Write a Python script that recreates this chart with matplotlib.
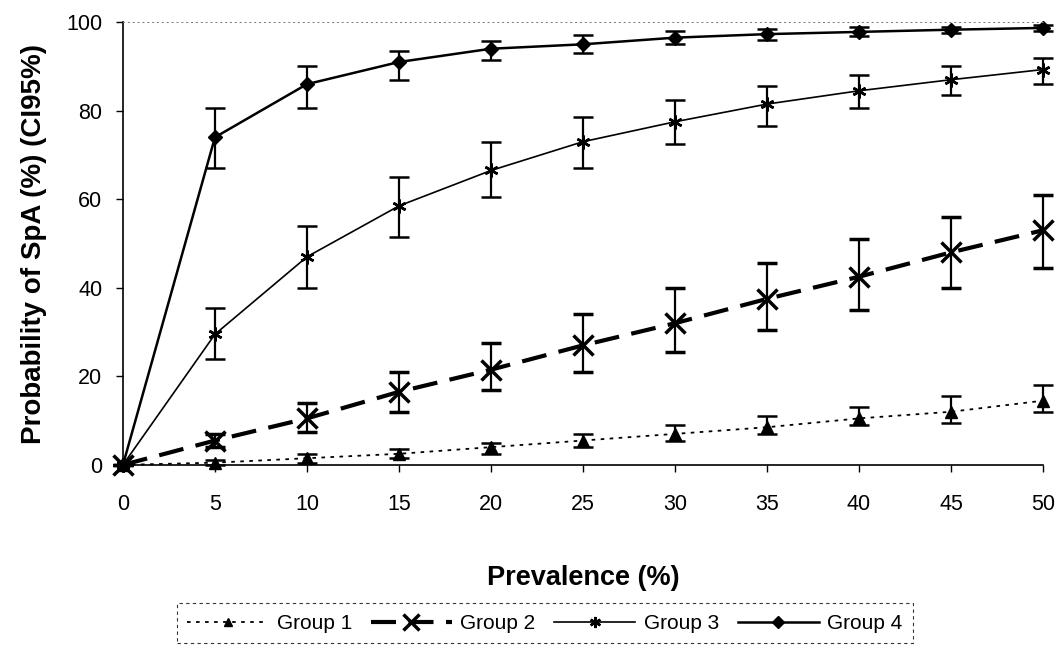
import numpy as np
import matplotlib
matplotlib.use('Agg')
import matplotlib.pyplot as plt
from matplotlib.lines import Line2D

plt.rcParams['font.family'] = ['Liberation Sans', 'DejaVu Sans']

prevalence = [0, 5, 10, 15, 20, 25, 30, 35, 40, 45, 50]

g1 = [0, 0.5, 1.5, 2.5, 4, 5.5, 7, 8.5, 10.5, 12, 14.5]
g1_lo = [0, 0, 0.5, 1.5, 2.5, 4, 5.5, 7, 9, 9.5, 12]
g1_hi = [0, 1, 2.5, 3.5, 5, 7, 9, 11, 13, 15.5, 18]

g2 = [0, 5.5, 10.5, 16.5, 21.5, 27, 32, 37.5, 42.5, 48, 53]
g2_lo = [0, 4, 7.5, 12, 17, 21, 25.5, 30.5, 35, 40, 44.5]
g2_hi = [0, 7, 14, 21, 27.5, 34, 40, 45.5, 51, 56, 61]

g3 = [0, 29.5, 47, 58.5, 66.5, 73, 77.5, 81.5, 84.5, 87, 89.3]
g3_lo = [0, 24, 40, 51.5, 60.5, 67, 72.5, 76.5, 80.5, 83.5, 86]
g3_hi = [0, 35.5, 54, 65, 73, 78.5, 82.5, 85.5, 88, 90, 92]

g4 = [0, 74, 86, 91, 94, 95, 96.5, 97.3, 97.8, 98.3, 98.7]
g4_lo = [0, 67, 80.5, 87, 91.5, 93, 95, 96, 96.8, 97.5, 98]
g4_hi = [0, 80.5, 90, 93.5, 95.8, 97, 98, 98.5, 98.8, 99, 99.3]

labels = ['Group 1', 'Group 2', 'Group 3', 'Group 4']

fig = plt.figure(figsize=(10.6, 6.52), dpi=100)
ax = fig.add_axes([0.116, 0.287, 0.868, 0.679])

styles = [
    dict(ls=(0, (2, 3)), lw=1.3, marker='^', ms=8),
    dict(ls=(0, (6, 3)), lw=3, marker='x', ms=14, mew=2.5),
    dict(ls='-', lw=1.2, marker=(6, 2, 0), ms=10, mew=1.8),
    dict(ls='-', lw=1.8, marker='D', ms=7.5),
]
data = [(g1, g1_lo, g1_hi), (g2, g2_lo, g2_hi), (g3, g3_lo, g3_hi), (g4, g4_lo, g4_hi)]

x = np.array(prevalence)
handles = []
for (y, lo, hi), st, lab in zip(data, styles, labels):
    y = np.array(y)
    err = [y - np.array(lo), np.array(hi) - y]
    eb = ax.errorbar(x, y, yerr=err, color='black', capsize=7, elinewidth=1.6,
                     capthick=1.8, **st)
    for art in eb.get_children():
        art.set_clip_on(False)
    leg_st = dict(st)
    leg_st['ms'] = st['ms'] * 0.8
    handles.append(Line2D([], [], color='black', label=lab, **leg_st))

ax.set_xlim(0, 50)
ax.set_ylim(0, 100)
ax.set_xticks(range(0, 51, 5))
ax.set_yticks(range(0, 101, 20))
ax.spines['top'].set_linestyle((0, (1, 4)))
ax.spines['top'].set_linewidth(0.7)
ax.spines['top'].set_color('0.45')
ax.spines['right'].set_visible(False)
ax.spines['left'].set_linewidth(1.2)
ax.spines['bottom'].set_linewidth(1.2)
ax.tick_params(direction='out', length=5, width=1, labelsize=15.5)
ax.tick_params(axis='x', pad=16)
ax.tick_params(axis='y', pad=10)

ax.set_xlabel('Prevalence (%)', fontsize=19.5, fontweight='bold', labelpad=36)
ax.set_ylabel('Probability of SpA (%) (CI95%)', fontsize=20, fontweight='bold', labelpad=14)

leg = fig.legend(handles=handles, loc='center', bbox_to_anchor=(0.514, 0.044),
                 ncol=4, fontsize=15, frameon=True, fancybox=False,
                 handlelength=3.9, handletextpad=0.4, columnspacing=0.9,
                 borderpad=0.5, borderaxespad=0)
leg.get_frame().set_edgecolor('black')
leg.get_frame().set_linestyle((0, (3, 3)))
leg.get_frame().set_linewidth(0.8)

fig.savefig('out.png', dpi=100)
